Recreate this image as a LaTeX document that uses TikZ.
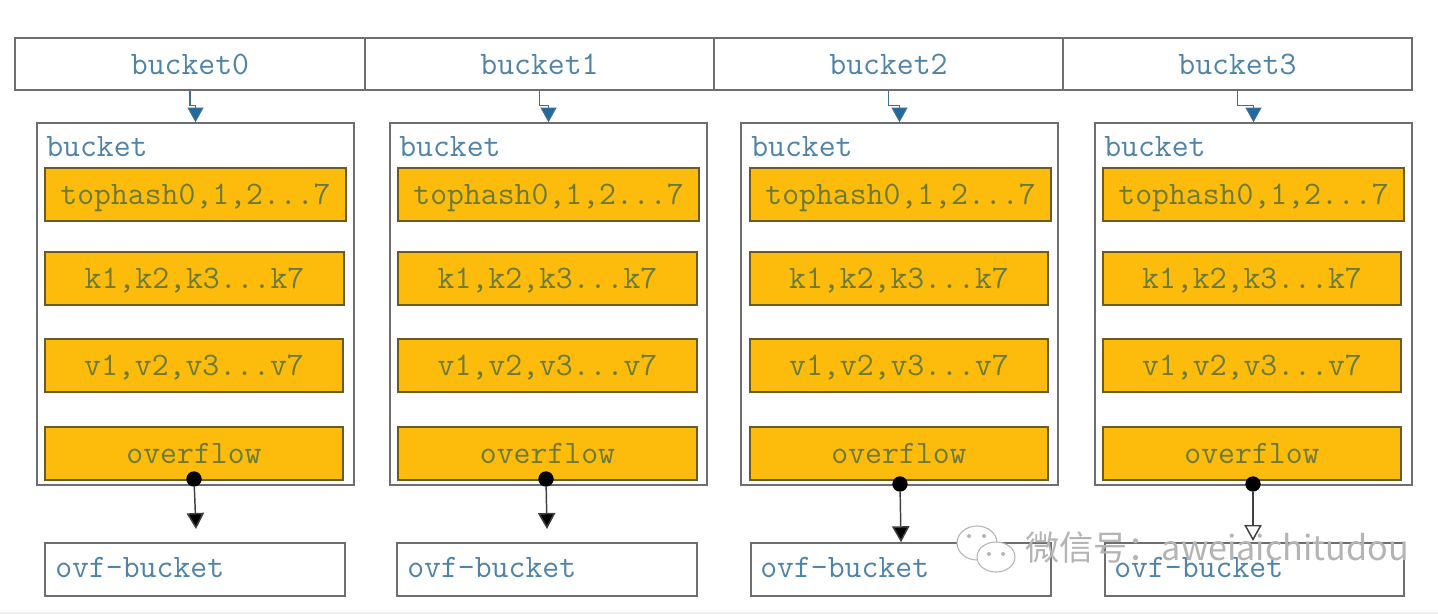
\documentclass[tikz,border=0pt]{standalone}
\usepackage{fontspec}
\usepackage{xcolor}
\usetikzlibrary{arrows.meta}
\newfontfamily\wmfont{Noto Sans CJK SC}
\definecolor{edgegray}{HTML}{6E6E72}
\definecolor{labelblue}{HTML}{4F83A8}
\definecolor{slotfill}{HTML}{FDBC0C}
\definecolor{slotedge}{HTML}{6B5A22}
\definecolor{slottext}{HTML}{6C7A38}
\definecolor{stepblue}{HTML}{22699F}
\definecolor{wmgray}{HTML}{B4B4B4}
\tikzset{
    pxsize/.style 2 args={minimum width=#1*0.75pt, minimum height=#2*0.75pt},
    cellbox/.style={draw=edgegray, line width=1.1pt, inner sep=0pt, text height=15.5pt, text depth=0pt, font=\fontsize{24.6}{24.6}\selectfont\ttfamily, text=labelblue},
    bucketbox/.style={draw=edgegray, line width=1.1pt, inner sep=0pt},
    slotbox/.style={draw=slotedge, line width=1pt, fill=slotfill, inner sep=0pt, text height=15.5pt, text depth=0pt, font=\fontsize{24.6}{24.6}\selectfont\ttfamily, text=slottext},
    tag/.style={anchor=west, inner sep=0pt, text height=15.5pt, text depth=0pt, font=\fontsize{24.6}{24.6}\selectfont\ttfamily, text=labelblue},
    dot/.style={circle, fill=black, inner sep=0pt, minimum size=11.5pt},
    steparrow/.style={draw=stepblue!70!gray, line width=0.8pt, -{Triangle[length=11pt,width=12pt,fill=stepblue]}},
    ovfarrow/.style={draw=black!75, line width=1.1pt, -{Triangle[length=12pt,width=13pt,fill=black]}}
}
\begin{document}
\begin{tikzpicture}[x=0.75pt, y=-0.75pt]
    \useasboundingbox (0,0) rectangle (1438,614);
    \fill[white] (0,0) rectangle (1438,614);
    \fill[black!6] (0,612) rectangle (1438,614);

    % Top row
    \node[cellbox, pxsize={350}{52}] (cell0) at (190,64) {bucket0};
    \node[cellbox, pxsize={349}{52}] (cell1) at (539.5,64) {bucket1};
    \node[cellbox, pxsize={349}{52}] (cell2) at (888.5,64) {bucket2};
    \node[cellbox, pxsize={349}{52}] (cell3) at (1237.5,64) {bucket3};

    % Bucket 0
    \node[bucketbox, pxsize={317}{362}] (bucket0) at (195.5,304) {};
    \node[tag] (title0) at (46,146) {bucket};
    \node[slotbox, pxsize={301}{53}] (hash0) at (195.5,194.5) {tophash0,1,2...7};
    \node[slotbox, pxsize={299}{53}] (keys0) at (194.5,278.5) {k1,k2,k3...k7};
    \node[slotbox, pxsize={298}{53}] (vals0) at (194,365.5) {v1,v2,v3...v7};
    \node[slotbox, pxsize={298}{53}] (over0) at (194,453.5) {overflow};
    \node[bucketbox, pxsize={300}{53}] (ovf0) at (195,569.5) {};
    \node[tag] (ovftext0) at (55,567) {ovf-bucket};
    \node[dot] (dot0) at (194,479) {};
    \coordinate (end0) at (196,529);

    % Bucket 1
    \node[bucketbox, pxsize={317}{362}] (bucket1) at (548.5,304) {};
    \node[tag] (title1) at (399,146) {bucket};
    \node[slotbox, pxsize={301}{53}] (hash1) at (548.5,194.5) {tophash0,1,2...7};
    \node[slotbox, pxsize={299}{53}] (keys1) at (547.5,278.5) {k1,k2,k3...k7};
    \node[slotbox, pxsize={299}{53}] (vals1) at (547.5,365.5) {v1,v2,v3...v7};
    \node[slotbox, pxsize={299}{53}] (over1) at (547.5,453.5) {overflow};
    \node[bucketbox, pxsize={300}{53}] (ovf1) at (547,569.5) {};
    \node[tag] (ovftext1) at (407,567) {ovf-bucket};
    \node[dot] (dot1) at (546,479) {};
    \coordinate (end1) at (547,529);

    % Bucket 2
    \node[bucketbox, pxsize={317}{362}] (bucket2) at (899.5,304) {};
    \node[tag] (title2) at (751,146) {bucket};
    \node[slotbox, pxsize={301}{53}] (hash2) at (900.5,194.5) {tophash0,1,2...7};
    \node[slotbox, pxsize={298}{53}] (keys2) at (899,278.5) {k1,k2,k3...k7};
    \node[slotbox, pxsize={298}{53}] (vals2) at (899,365.5) {v1,v2,v3...v7};
    \node[slotbox, pxsize={298}{53}] (over2) at (899,453.5) {overflow};
    \node[bucketbox, pxsize={300}{53}] (ovf2) at (901,569.5) {};
    \node[tag] (ovftext2) at (760,567) {ovf-bucket};
    \node[dot] (dot2) at (900,484) {};

    % Bucket 3
    \node[bucketbox, pxsize={317}{362}] (bucket3) at (1253.5,304) {};
    \node[tag] (title3) at (1104,146) {bucket};
    \node[slotbox, pxsize={301}{53}] (hash3) at (1253.5,194.5) {tophash0,1,2...7};
    \node[slotbox, pxsize={298}{53}] (keys3) at (1252,278.5) {k1,k2,k3...k7};
    \node[slotbox, pxsize={298}{53}] (vals3) at (1252,365.5) {v1,v2,v3...v7};
    \node[slotbox, pxsize={298}{53}] (over3) at (1252,453.5) {overflow};
    \node[bucketbox, pxsize={299}{53}] (ovf3) at (1254.5,569.5) {};
    \node[tag] (ovftext3) at (1114,567) {ovf-bucket};
    \node[dot] (dot3) at (1253,484) {};
    \coordinate (end3) at (1253,541);

    % Steps from the top row
    \draw[steparrow] (cell0.south) -- ++(0,15) -| (bucket0.north);
    \draw[steparrow] (cell1.south) -- ++(0,15) -| (bucket1.north);
    \draw[steparrow] (cell2.south) -- ++(0,15) -| (bucket2.north);
    \draw[steparrow] (cell3.south) -- ++(0,15) -| (bucket3.north);

    % Overflow links
    \draw[ovfarrow] (dot0) -- (end0);
    \draw[ovfarrow] (dot1) -- (end1);
    \draw[ovfarrow] (dot2) -- (ovf2.north);
    \draw[draw=black!75, line width=1.1pt, -{Triangle[length=12pt,width=13pt,fill=white]}] (dot3) -- (end3);

    % Watermark
    \filldraw[draw=wmgray, fill=white, line width=0.8pt] (977,543) ellipse (20 and 17);
    \filldraw[draw=wmgray, fill=white, line width=0.8pt] (996,557) ellipse (19 and 15);
    \fill[wmgray] (969,536) circle (2) (984,536) circle (2) (989,554) circle (2) (1003,554) circle (2);
    \node[anchor=west, inner sep=0pt, text=wmgray, font=\fontsize{25.6}{25.6}\selectfont\wmfont] (mark) at (1025,548) {微信号：aweiaichitudou};
\end{tikzpicture}
\end{document}
